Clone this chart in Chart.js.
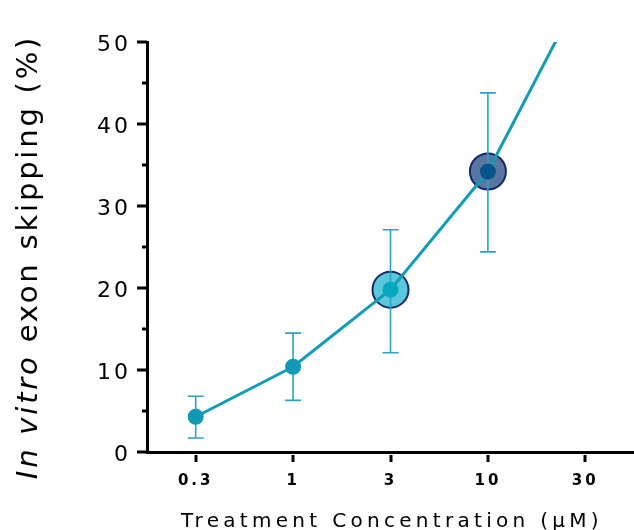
<!DOCTYPE html>
<html>
<head>
<meta charset="utf-8">
<script src="https://cdn.jsdelivr.net/npm/chart.js@4/dist/chart.umd.min.js"></script>
<style>
html,body{margin:0;padding:0;background:#fff;}
canvas{display:block;}
</style>
</head>
<body>
<canvas id="c" width="634" height="530"></canvas>
<script>
// ---- data ----
const concentrationLabels = ['0.3', '1', '3', '10', '30'];
const meanSkipping = [4.3, 10.4, 19.8, 34.2, 57];   // last point lies above the axis and is clipped
const errorUpper = [6.8, 14.5, 27.1, 43.8];
const errorLower = [1.7, 6.3, 12.1, 24.4];
const highlightIndex = [2, 3];
const highlightFill = ['#5ac8da', '#5a76a0'];
const dotColors = ['#119ab3', '#119ab3', '#05a8c0', '#04558a', '#119ab3'];
const yTicks = [0, 10, 20, 30, 40, 50];
const yMinorTicks = [5, 15, 25, 35, 45];

const FONT = "'DejaVu Sans', Verdana, sans-serif";

const lineData = meanSkipping.map((v, i) => ({x: i, y: v}));
const highlightData = highlightIndex.map(i => ({x: i, y: meanSkipping[i]}));

const spacingPlugin = {
  id: 'spacing',
  beforeDraw(chart) { chart.ctx.letterSpacing = '3px'; },
  afterDraw(chart) { chart.ctx.letterSpacing = '0px'; }
};

const errorBarPlugin = {
  id: 'errorBars',
  beforeDatasetDraw(chart, args) {
    if (args.index !== 1) return;
    const ctx = chart.ctx, xs = chart.scales.x, ys = chart.scales.y;
    ctx.save();
    ctx.strokeStyle = '#2ba4c1';
    ctx.lineWidth = 1.6;
    errorUpper.forEach((up, i) => {
      const px = xs.getPixelForValue(i);
      const pt = ys.getPixelForValue(up);
      const pb = ys.getPixelForValue(errorLower[i]);
      ctx.beginPath();
      ctx.moveTo(px, pt); ctx.lineTo(px, pb);
      ctx.moveTo(px - 8, pt); ctx.lineTo(px + 8, pt);
      ctx.moveTo(px - 8, pb); ctx.lineTo(px + 8, pb);
      ctx.stroke();
    });
    ctx.restore();
  }
};

const axisDecorPlugin = {
  id: 'axisDecor',
  afterDraw(chart) {
    const ctx = chart.ctx, xs = chart.scales.x, ys = chart.scales.y;
    const left = chart.chartArea.left, bottom = chart.chartArea.bottom;
    ctx.save();
    ctx.letterSpacing = '0px';
    ctx.strokeStyle = '#000';
    ctx.lineWidth = 3;
    ctx.beginPath();
    yTicks.forEach(v => {
      const py = Math.round(ys.getPixelForValue(v));
      ctx.moveTo(left - 10, py); ctx.lineTo(left, py);
    });
    yMinorTicks.forEach(v => {
      const py = Math.round(ys.getPixelForValue(v));
      ctx.moveTo(left - 5, py); ctx.lineTo(left, py);
    });
    concentrationLabels.forEach((l, i) => {
      const px = Math.round(xs.getPixelForValue(i));
      ctx.moveTo(px, bottom + 3); ctx.lineTo(px, bottom + 10);
    });
    ctx.stroke();

    // x title
    ctx.fillStyle = '#000';
    ctx.font = '20px ' + FONT;
    ctx.letterSpacing = '4.3px';
    ctx.textAlign = 'center';
    ctx.textBaseline = 'alphabetic';
    ctx.fillText('Treatment Concentration (\u03bcM)', 392, 527);

    // y title with italic part
    ctx.letterSpacing = '2.8px';
    ctx.translate(37, 257);
    ctx.rotate(-Math.PI / 2);
    const partA = 'In vitro';
    const partB = ' exon skipping (%)';
    ctx.font = 'italic 29px ' + FONT;
    const wA = ctx.measureText(partA).width;
    ctx.font = '29px ' + FONT;
    const wB = ctx.measureText(partB).width;
    const start = -(wA + wB) / 2;
    ctx.textAlign = 'left';
    ctx.font = 'italic 29px ' + FONT;
    ctx.fillText(partA, start, 0);
    ctx.font = '29px ' + FONT;
    ctx.fillText(partB, start + wA, 0);
    ctx.restore();
  }
};

new Chart(document.getElementById('c'), {
  type: 'line',
  data: {
    datasets: [
      {
        type: 'scatter',
        data: highlightData,
        showLine: false,
        pointRadius: 18,
        pointHoverRadius: 18,
        pointBackgroundColor: highlightFill,
        pointBorderColor: '#13296b',
        pointBorderWidth: 2,
        order: 2
      },
      {
        data: lineData,
        borderColor: '#139cb5',
        borderWidth: 3,
        pointRadius: [8, 8, 8, 8, 0],
        pointBackgroundColor: dotColors,
        pointBorderColor: dotColors,
        pointBorderWidth: 0,
        tension: 0,
        order: 1
      }
    ]
  },
  options: {
    responsive: false,
    animation: false,
    events: [],
    layout: {autoPadding: false, padding: {top: 42, right: 0, left: 0, bottom: 0}},
    plugins: {legend: {display: false}, tooltip: {enabled: false}},
    scales: {
      x: {
        type: 'linear',
        min: -0.5,
        max: 4.5,
        grid: {display: false, drawTicks: false},
        border: {display: true, color: '#000', width: 3},
        afterBuildTicks: s => { s.ticks = concentrationLabels.map((l, i) => ({value: i})); },
        afterFit: s => { s.height = 78; s.paddingLeft = 0; s.paddingRight = 0; },
        ticks: {
          autoSkip: false,
          maxRotation: 0,
          padding: 20,
          color: '#000',
          font: {family: FONT, size: 15, weight: 'bold'},
          callback: (v) => concentrationLabels[v] ?? ''
        }
      },
      y: {
        min: 0,
        max: 50,
        grid: {display: false, drawTicks: false},
        border: {display: true, color: '#000', width: 3},
        afterBuildTicks: s => { s.ticks = yTicks.map(v => ({value: v})); },
        afterFit: s => { s.width = 147; s.paddingTop = 0; s.paddingBottom = 0; },
        ticks: {
          padding: 16,
          labelOffset: 3,
          color: '#000',
          font: {family: FONT, size: 22},
          callback: v => String(v)
        }
      }
    }
  },
  plugins: [spacingPlugin, errorBarPlugin, axisDecorPlugin]
});
</script>
</body>
</html>
